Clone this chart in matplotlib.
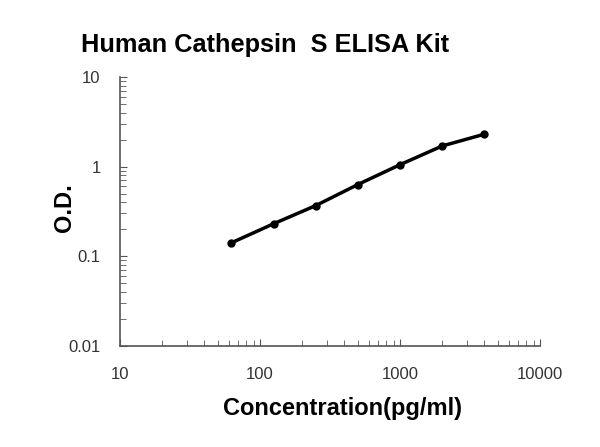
import numpy as np
import matplotlib.pyplot as plt
from matplotlib.ticker import LogLocator, FixedLocator, NullFormatter

plt.rcParams['font.family'] = ['Liberation Sans', 'DejaVu Sans']

conc = [62.5, 125, 250, 500, 1000, 2000, 4000]
od = [0.141, 0.230, 0.367, 0.631, 1.05, 1.70, 2.30]
xticks = [10, 100, 1000, 10000]
xticklabels = ["10", "100", "1000", "10000"]
yticks = [0.01, 0.1, 1, 10]
yticklabels = ["0.01", "0.1", "1", "10"]

fig = plt.figure(figsize=(6, 4.47), dpi=100)
ax = fig.add_axes([0.2, 0.2266, 0.7, 0.601])

ax.plot(conc, od, color="black", lw=2.5, marker="o", markersize=5)

ax.set_xscale("log")
ax.set_yscale("log")
ax.set_xlim(10, 10000)
ax.set_ylim(0.01, 10)

ax.xaxis.set_major_locator(FixedLocator(xticks))
ax.set_xticklabels(xticklabels)
ax.yaxis.set_major_locator(FixedLocator(yticks))
ax.set_yticklabels(yticklabels)
ax.xaxis.set_minor_locator(LogLocator(base=10, subs=np.arange(2, 10)))
ax.yaxis.set_minor_locator(LogLocator(base=10, subs=np.arange(2, 10)))
ax.xaxis.set_minor_formatter(NullFormatter())
ax.yaxis.set_minor_formatter(NullFormatter())

for s in ["top", "right"]:
    ax.spines[s].set_visible(False)
for s in ["left", "bottom"]:
    ax.spines[s].set_color("#555555")
    ax.spines[s].set_linewidth(1.2)

ax.tick_params(axis="x", which="both", direction="in", color="#555555", labelsize=12,
               labelcolor="#333333", pad=15)
ax.tick_params(axis="y", which="both", direction="in", color="#555555", labelsize=12,
               labelcolor="#333333", pad=14)
ax.tick_params(which="major", length=5)
ax.tick_params(which="minor", length=4)

fig.text(265 / 600, 1 - 45 / 447, "Human Cathepsin  S ELISA Kit", ha="center", va="center",
         fontsize=18.3, fontweight="bold")
fig.text(343 / 600, 1 - 408 / 447, "Concentration(pg/ml)", ha="center", va="center",
         fontsize=17, fontweight="bold")
fig.text(65 / 600, 1 - 208 / 447, "O.D.", ha="center", va="center", rotation=90,
         fontsize=17, fontweight="bold")

fig.savefig("out.png", dpi=100)
